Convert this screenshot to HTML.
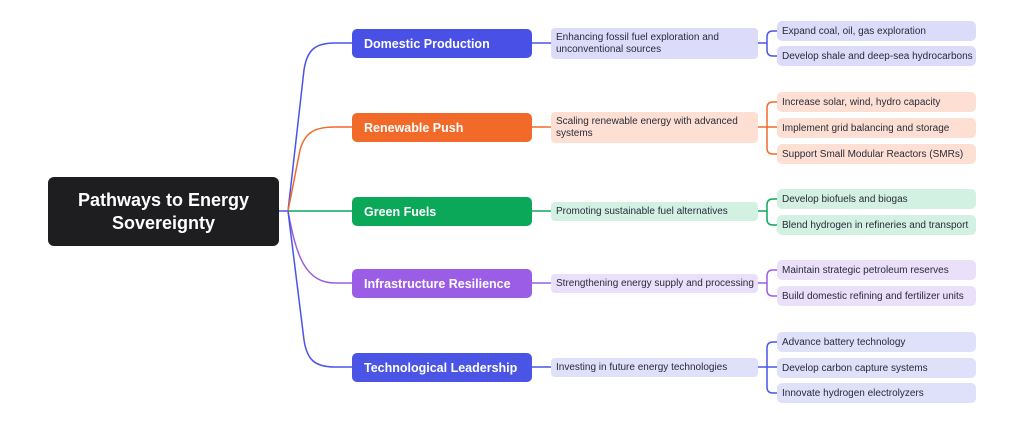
<!DOCTYPE html>
<html><head><meta charset="utf-8"><style>
body{margin:0;width:1024px;height:424px;background:#fff;position:relative;overflow:hidden;font-family:"Liberation Sans",sans-serif}
.b{position:absolute;box-sizing:border-box;display:flex;align-items:center}
.root{left:48px;top:177px;width:231px;height:69px;background:#1e1e20;border-radius:6px;color:#fff;font-weight:bold;font-size:18px;justify-content:center;text-align:center;line-height:23px}
.m{left:352px;width:180px;height:29px;border-radius:5px;color:#fff;font-weight:bold;font-size:12.5px;padding-left:12px}
.d{left:551px;width:207px;border-radius:4px;font-size:10px;color:#2a2a3a;padding-left:5px;line-height:12px}
.l{left:777px;width:199px;height:20px;border-radius:5px;font-size:10px;color:#2a2a3a;padding-left:5px}
</style></head><body>
<svg width="1024" height="424" style="position:absolute;left:0;top:0" fill="none" stroke-width="1.5">
<path d="M279 211 H288" stroke="#4a55e6"/>
<path d="M288 211 L304 70 C307 50,315 43,335 43 H352" stroke="#4a55e6"/>
<path d="M288 211 L300 150 C305 132,315 127,335 127 H352" stroke="#f26a2a"/>
<path d="M288 211 H352" stroke="#0ba85a"/>
<path d="M288 211 C296 255,305 283,335 283 H352" stroke="#9b5de5"/>
<path d="M288 211 L304 340 C307 360,315 367,335 367 H352" stroke="#4a55e6"/>
<g stroke="#4a55e6"><path d="M532 43H551M758 43H767M767 43V37Q767 31 773 31H777M767 43V50Q767 56 773 56H777"/></g>
<g stroke="#f26a2a"><path d="M532 127H551M758 127H777M767 128V108Q767 102 773 102H777M767 128V148Q767 154 773 154H777"/></g>
<g stroke="#0ba85a"><path d="M532 211H551M758 211H767M767 211V205Q767 199 773 199H777M767 211V219Q767 225 773 225H777"/></g>
<g stroke="#9b5de5"><path d="M532 283H551M758 283H767M767 283V276Q767 270 773 270H777M767 283V290Q767 296 773 296H777"/></g>
<g stroke="#4a55e6"><path d="M532 367H551M758 367H777M767 367V348Q767 342 773 342H777M767 367V387Q767 393 773 393H777"/></g>
</svg>
<div class="b root">Pathways to Energy<br>Sovereignty</div>
<div class="b m" style="top:29px;background:#4850e6">Domestic Production</div>
<div class="b m" style="top:113px;background:#f26a2a">Renewable Push</div>
<div class="b m" style="top:197px;background:#0ba85a">Green Fuels</div>
<div class="b m" style="top:269px;background:#9b5de5">Infrastructure Resilience</div>
<div class="b m" style="top:353px;background:#4a55e6">Technological Leadership</div>
<div class="b d" style="top:28px;height:31px;background:#dcdcfa">Enhancing fossil fuel exploration and<br>unconventional sources</div>
<div class="b d" style="top:112px;height:31px;background:#fde0d3">Scaling renewable energy with advanced<br>systems</div>
<div class="b d" style="top:202px;height:19px;background:#d3f1e2">Promoting sustainable fuel alternatives</div>
<div class="b d" style="top:274px;height:19px;background:#ebe0fa">Strengthening energy supply and processing</div>
<div class="b d" style="top:358px;height:19px;background:#dfe0fa">Investing in future energy technologies</div>
<div class="b l" style="top:21px;background:#dcdcfa">Expand coal, oil, gas exploration</div>
<div class="b l" style="top:46px;background:#dcdcfa">Develop shale and deep-sea hydrocarbons</div>
<div class="b l" style="top:92px;background:#fde0d3">Increase solar, wind, hydro capacity</div>
<div class="b l" style="top:118px;background:#fde0d3">Implement grid balancing and storage</div>
<div class="b l" style="top:144px;background:#fde0d3">Support Small Modular Reactors (SMRs)</div>
<div class="b l" style="top:189px;background:#d3f1e2">Develop biofuels and biogas</div>
<div class="b l" style="top:215px;background:#d3f1e2">Blend hydrogen in refineries and transport</div>
<div class="b l" style="top:260px;background:#ebe0fa">Maintain strategic petroleum reserves</div>
<div class="b l" style="top:286px;background:#ebe0fa">Build domestic refining and fertilizer units</div>
<div class="b l" style="top:332px;background:#dfe0fa">Advance battery technology</div>
<div class="b l" style="top:358px;background:#dfe0fa">Develop carbon capture systems</div>
<div class="b l" style="top:383px;background:#dfe0fa">Innovate hydrogen electrolyzers</div>
</body></html>
